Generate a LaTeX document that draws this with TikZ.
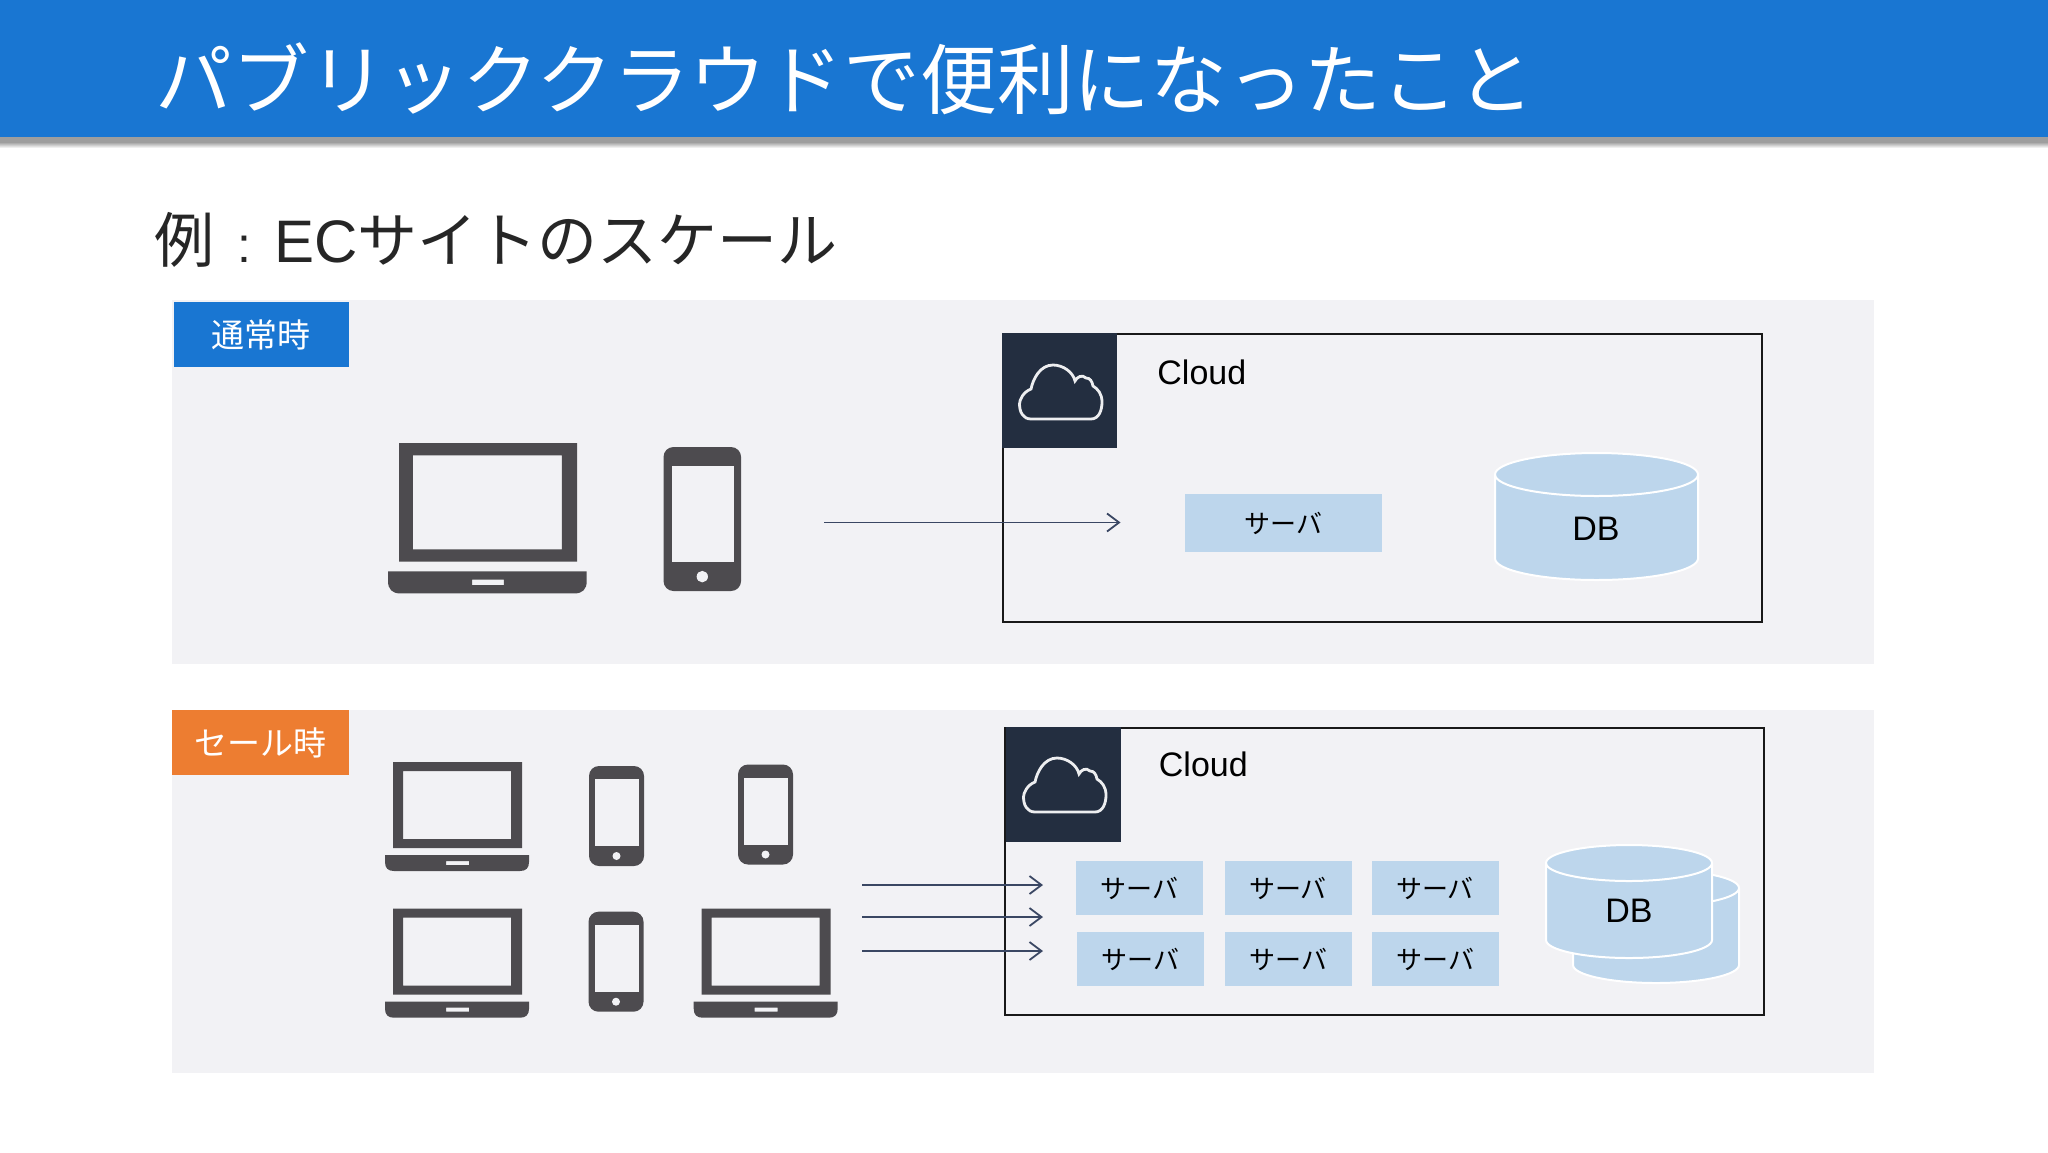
\documentclass[tikz,border=0pt]{standalone}
\usepackage{fontspec}
\setmainfont{Liberation Sans}
\newfontfamily\jp{Noto Sans CJK JP}
\usetikzlibrary{arrows.meta}
\definecolor{headblue}{HTML}{1976D2}
\definecolor{tagorange}{HTML}{ED7D31}
\definecolor{panelgray}{HTML}{F2F2F5}
\definecolor{clouddark}{HTML}{232E40}
\definecolor{devgray}{HTML}{4D4B4F}
\definecolor{srvblue}{HTML}{BDD6EC}
\definecolor{arrowblue}{HTML}{3A4763}
\tikzset{
	panel/.style={fill=panelgray,draw=none},
	tagbox/.style={fill=#1,text=white,inner sep=0pt,font=\jp\fontsize{16.5}{20}\selectfont},
	frame/.style={draw=black!90,line width=1pt},
	darkbox/.style={fill=clouddark},
	srv/.style={fill=srvblue,inner sep=0pt,minimum width=63.5pt,minimum height=27pt,font=\jp\fontsize{13}{16}\selectfont},
	lbl/.style={inner sep=0pt,font=\fontsize{17}{20}\selectfont},
	flow/.style={draw=arrowblue,line width=0.9pt,-{Straight Barb[length=6pt,width=9pt]}},
	laptop/.pic={
		\fill[devgray,even odd rule] (8,0) rectangle (137,86) (18,9) rectangle (126,77);
		\fill[devgray,even odd rule] (0,93) -- (144,93) -- (144,100) .. controls (144,106) and (141,109) .. (135,109)
			-- (9,109) .. controls (3,109) and (0,106) .. (0,100) -- cycle
			(61,99) rectangle (84,103);
	},
	phone/.pic={
		\fill[devgray,rounded corners=5pt] (0,0) rectangle (55,100);
		\fill[panelgray] (6,13) rectangle (50,80);
		\fill[panelgray] (27.5,90) circle [radius=4];
	},
	cloudicon/.pic={
		\draw[white!92!clouddark,line width=1.4pt] (28,85) -- (88,85) .. controls (96,85) and (99,76) .. (99,68)
			.. controls (99,60) and (95,55) .. (90,52) .. controls (89,47) and (87,44) .. (83,44)
			.. controls (79,40) and (74,43) .. (72,47) .. controls (70,38) and (60,31) .. (50,31)
			.. controls (37,31) and (30,45) .. (28,55) .. controls (20,58) and (16.5,66) .. (16.5,70)
			.. controls (16.5,78) and (20,85) .. (28,85) -- cycle;
	}
}
\newcommand{\drawdb}[5]{
	\pgfmathsetmacro{\xm}{(#1+#3)/2}
	\pgfmathsetmacro{\rx}{(#3-#1)/2}
	\filldraw[fill=srvblue,draw=white,line width=1pt] (#1,#2+#5) -- (#1,#4-#5)
		.. controls (#1,#4-#5+0.55*#5) and (\xm-0.55*\rx,#4) .. (\xm,#4)
		.. controls (\xm+0.55*\rx,#4) and (#3,#4-#5+0.55*#5) .. (#3,#4-#5) -- (#3,#2+#5)
		.. controls (#3,#2+0.45*#5) and (\xm+0.55*\rx,#2) .. (\xm,#2)
		.. controls (\xm-0.55*\rx,#2) and (#1,#2+0.45*#5) .. (#1,#2+#5) -- cycle;
	\draw[draw=white,line width=1pt] (#1,#2+#5)
		.. controls (#1,#2+1.55*#5) and (\xm-0.55*\rx,#2+2*#5) .. (\xm,#2+2*#5)
		.. controls (\xm+0.55*\rx,#2+2*#5) and (#3,#2+1.55*#5) .. (#3,#2+#5);
}
\begin{document}
\begin{tikzpicture}[x=0.5pt,y=-0.5pt]
	\useasboundingbox (0,0) rectangle (2048,1152);
	\fill[white] (0,0) rectangle (2048,1152);
	\fill[black!38] (0,137) rectangle (2048,142);
	\shade[top color=black!38,bottom color=white] (0,142) rectangle (2048,148);
	\fill[headblue] (0,0) rectangle (2048,137);
	\node[anchor=west,inner sep=0pt,text=white,font=\jp\fontsize{38.4}{44}\selectfont] (title) at (155,79) {パブリッククラウドで便利になったこと};
	\node[anchor=west,inner sep=0pt,text=black!85,font=\fontsize{30}{36}\selectfont] (sub) at (154,240) {{\jp 例}\makebox[30pt][c]{\fontsize{25}{30}\selectfont :}EC{\jp サイトのスケール}};

	\fill[panel] (172,300) rectangle (1874,664);
	\fill[panel] (172,710) rectangle (1874,1073);
	\node[tagbox=headblue,minimum width=87.5pt,minimum height=32.5pt] (tagA) at (261,334.5) {通常時};
	\node[tagbox=tagorange,minimum width=88.5pt,minimum height=32.5pt] (tagB) at (260.5,742.5) {セール時};

	\pic (lapA) at (388,443) [scale=1.38] {laptop};
	\pic (phoA) at (663.5,447) [xscale=1.41,yscale=1.44] {phone};

	\draw[frame] (1003,334) rectangle (1762,622);
	\fill[darkbox] (1002,333) rectangle (1117,448);
	\pic (cloA) at (1003,334) {cloudicon};
	\node[lbl,anchor=west] (clA) at (1157,372) {Cloud};
	\node[srv,minimum width=98.5pt,minimum height=29pt] (srvA) at (1283.5,523) {サーバ};
	\drawdb{1495}{453}{1698}{580}{21.5}
	\node[lbl] (dbA) at (1596,529) {DB};
	\coordinate (srcA) at (824,522.5);
	\coordinate (dstA) at (1120.5,522.5);
	\draw[flow] (srcA) -- (dstA);

	\pic (lapB) at (385,762) {laptop};
	\pic (lapC) at (385,908.7) {laptop};
	\pic (lapD) at (693.7,908.7) {laptop};
	\pic (phoB) at (589,766) {phone};
	\pic (phoC) at (738,764.5) {phone};
	\pic (phoD) at (588.5,911.7) {phone};

	\draw[frame] (1005,727.5) rectangle (1764,1015);
	\fill[darkbox] (1006,727) rectangle (1121,842);
	\pic (cloB) at (1007,727) {cloudicon};
	\node[lbl,anchor=west] (clB) at (1158.5,764.5) {Cloud};
	\node[srv] (srvB) at (1139.5,888) {サーバ};
	\node[srv] (srvC) at (1288,888) {サーバ};
	\node[srv] (srvD) at (1435,888) {サーバ};
	\node[srv] (srvE) at (1140.5,959) {サーバ};
	\node[srv] (srvF) at (1288.5,959) {サーバ};
	\node[srv] (srvG) at (1435.5,959) {サーバ};
	\drawdb{1573}{870}{1739}{983}{18}
	\drawdb{1546}{845}{1712}{958}{18}
	\node[lbl] (dbB) at (1629,911) {DB};
	\coordinate (srcB) at (862,885);
	\coordinate (dstB) at (1043,885);
	\coordinate (srcC) at (862,917);
	\coordinate (dstC) at (1043,917);
	\coordinate (srcD) at (862,951);
	\coordinate (dstD) at (1043,951);
	\draw[flow] (srcB) -- (dstB);
	\draw[flow] (srcC) -- (dstC);
	\draw[flow] (srcD) -- (dstD);
\end{tikzpicture}
\end{document}
